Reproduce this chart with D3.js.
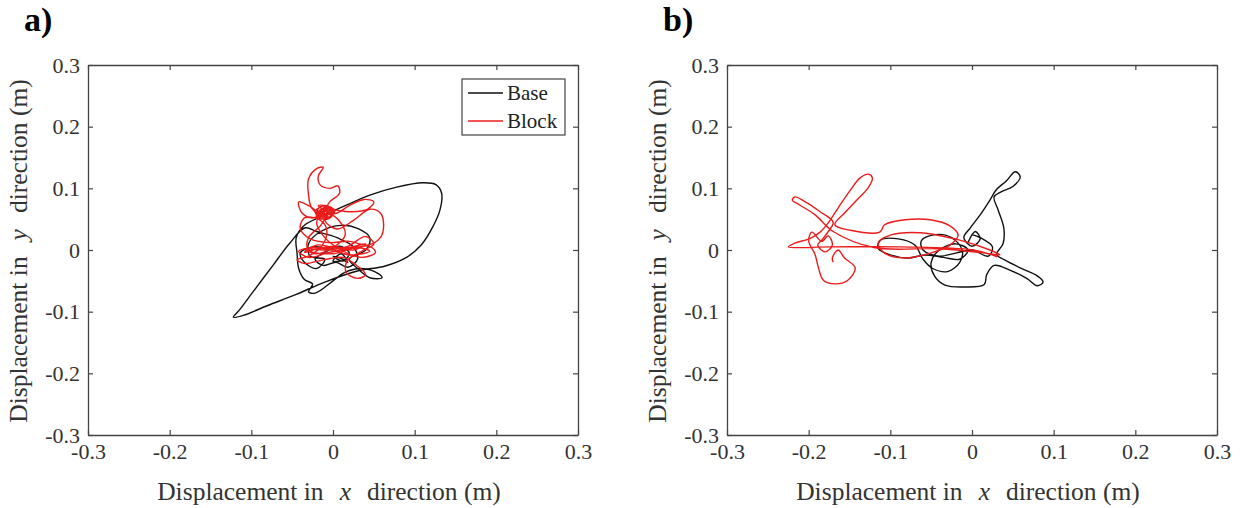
<!DOCTYPE html>
<html>
<head>
<meta charset="utf-8">
<script src="https://cdn.jsdelivr.net/npm/d3@7"></script>
<style>
body { margin: 0; background: #fff; }
text { font-family: 'Liberation Serif', 'Times New Roman', serif; }
</style>
</head>
<body>
<div id="graph"></div>
<script>
'use strict';

let WIDTH = 1244;
let HEIGHT = 508;
let PLOT_W = 490;
let PLOT_H = 370;
let PANEL_POS = [{ left: 88, top: 65 }, { left: 727, top: 65 }];

let COLORS = { Base: '#111111', Block: '#ec1c1c' };

// axis ticks
let TICKS = [-0.3, -0.2, -0.1, 0, 0.1, 0.2, 0.3];
let TICK_LABELS = ['-0.3', '-0.2', '-0.1', '0', '0.1', '0.2', '0.3'];
let SERIES = ['Base', 'Block'];
let PANEL_LABELS = ['a)', 'b)'];

// panel a, base displacement (x, y) in m
let baseA = [
    [0.008, -0.012], [0.018, -0.02], [0.01, -0.006], [0.0, -0.018], [0.014, -0.016],
    [0.0, -0.01], [0.012, -0.018], [0.02, -0.005], [0.008, 0.006], [-0.01, -0.004],
    [-0.022, -0.015], [-0.012, -0.025], [0.004, -0.02], [0.018, -0.028], [0.03, -0.015],
    [0.025, 0.005], [0.005, 0.02], [-0.02, 0.03], [-0.034, 0.036], [-0.053, 0.011],
    [-0.073, -0.024], [-0.098, -0.068], [-0.115, -0.098], [-0.122, -0.109], [-0.11, -0.106],
    [-0.08, -0.09], [-0.045, -0.072], [-0.01, -0.052], [0.03, -0.034], [0.064, -0.026],
    [0.09, -0.012], [0.108, 0.008], [0.122, 0.037], [0.131, 0.065], [0.133, 0.092],
    [0.126, 0.106], [0.11, 0.109], [0.078, 0.102], [0.045, 0.089], [0.017, 0.073],
    [-0.013, 0.055], [-0.035, 0.04], [-0.045, 0.02], [-0.044, -0.005], [-0.042, -0.03],
    [-0.035, -0.048], [-0.025, -0.055], [-0.03, -0.068], [-0.022, -0.07], [0.0, -0.05],
    [0.015, -0.036], [0.035, -0.03], [0.055, -0.038], [0.06, -0.045], [0.045, -0.045],
    [0.03, -0.03], [0.02, -0.015], [0.04, 0.0], [0.045, 0.02], [0.03, 0.035],
    [0.01, 0.04], [-0.015, 0.03], [-0.03, 0.01], [-0.028, -0.01], [-0.01, -0.015],
    [-0.02, -0.03], [-0.035, -0.02], [-0.04, -0.005], [-0.025, 0.005], [0.0, 0.0]
];

// panel a, block displacement
let blockA = [
    [0.0, 0.0], [-0.025, 0.004], [-0.042, -0.002], [-0.03, -0.012], [-0.005, -0.004],
    [0.02, 0.002], [0.045, 0.006], [0.052, -0.004], [0.035, -0.012], [0.01, 0.0],
    [-0.01, 0.02], [-0.02, 0.045], [-0.01, 0.062], [0.002, 0.066], [-0.012, 0.055],
    [-0.026, 0.068], [-0.03, 0.09], [-0.03, 0.115], [-0.02, 0.132], [-0.012, 0.134],
    [-0.018, 0.12], [-0.016, 0.106], [-0.004, 0.1], [0.006, 0.104], [0.008, 0.092],
    [-0.004, 0.078], [-0.012, 0.062], [-0.025, 0.052], [-0.038, 0.06], [-0.042, 0.078],
    [-0.03, 0.072], [-0.012, 0.058], [0.005, 0.06], [0.02, 0.072], [0.038, 0.082],
    [0.05, 0.078], [0.042, 0.066], [0.02, 0.062], [-0.005, 0.064], [-0.01, 0.048],
    [0.005, 0.034], [0.025, 0.048], [0.045, 0.066], [0.058, 0.06], [0.062, 0.04],
    [0.058, 0.02], [0.042, 0.008], [0.02, 0.014], [-0.005, 0.012], [-0.028, 0.018],
    [-0.04, 0.035], [-0.035, 0.052], [-0.018, 0.05], [-0.008, 0.035], [-0.012, 0.01],
    [-0.03, -0.01], [-0.044, -0.016], [-0.035, -0.022], [-0.012, -0.016], [0.012, -0.012],
    [0.028, -0.024], [0.04, -0.04], [0.03, -0.046], [0.016, -0.036], [0.018, -0.016],
    [0.035, -0.002], [0.05, 0.01], [0.04, 0.022], [0.018, 0.006], [-0.008, 0.0],
    [-0.035, 0.002], [-0.022, -0.006], [0.0, 0.004], [0.015, 0.025], [0.006, 0.05],
    [-0.008, 0.062], [-0.018, 0.072], [-0.004, 0.07], [-0.014, 0.06], [-0.006, 0.054],
    [-0.015, 0.064], [-0.01, 0.055], [-0.004, 0.062], [-0.012, 0.068], [-0.018, 0.058],
    [-0.008, 0.052], [0.0, 0.058], [-0.006, 0.068], [-0.016, 0.064], [-0.012, 0.054],
    [-0.02, 0.058], [-0.008, 0.07], [0.0, 0.06], [-0.012, 0.05], [-0.022, 0.062],
    [-0.01, 0.072], [0.002, 0.064], [-0.006, 0.05], [-0.02, 0.054], [-0.016, 0.07],
    [-0.002, 0.068], [-0.004, 0.054], [-0.018, 0.06], [-0.01, 0.066], [-0.008, 0.058],
    [-0.015, 0.04], [-0.03, 0.02], [-0.03, 0.0], [0.0, -0.006], [0.03, 0.004],
    [0.045, -0.002], [0.02, -0.008], [-0.01, 0.004], [-0.035, -0.004], [-0.02, 0.008],
    [0.01, 0.002], [0.04, 0.01], [0.025, 0.0], [0.0, 0.006], [-0.02, 0.0]
];

// panel b, base displacement
let baseB = [
    [-0.005, 0.012], [0.004, 0.03], [0.01, 0.018], [0.0, 0.006], [-0.01, 0.02],
    [-0.002, 0.036], [0.01, 0.057], [0.022, 0.081], [0.03, 0.098], [0.042, 0.112],
    [0.053, 0.127], [0.059, 0.119], [0.05, 0.103], [0.035, 0.094], [0.027, 0.086],
    [0.032, 0.065], [0.039, 0.035], [0.038, 0.01], [0.03, -0.007], [0.04, -0.016],
    [0.059, -0.029], [0.08, -0.042], [0.087, -0.052], [0.08, -0.058], [0.067, -0.046],
    [0.047, -0.033], [0.027, -0.025], [0.018, -0.04], [0.015, -0.056], [-0.008, -0.06],
    [-0.033, -0.057], [-0.046, -0.042], [-0.05, -0.02], [-0.04, 0.0], [-0.02, 0.01],
    [-0.005, 0.0], [-0.015, -0.015], [-0.035, -0.012], [-0.058, -0.008], [-0.078, -0.013],
    [-0.1, -0.008], [-0.115, 0.003], [-0.112, 0.016], [-0.09, 0.018], [-0.07, 0.008],
    [-0.06, -0.015], [-0.048, -0.03], [-0.03, -0.035], [-0.015, -0.02], [-0.012, 0.0],
    [-0.025, 0.02], [-0.045, 0.025], [-0.062, 0.015], [-0.06, 0.0], [-0.04, -0.01],
    [-0.02, -0.005], [0.0, 0.0], [0.02, -0.01], [0.025, 0.005], [0.01, 0.02], [0.0, 0.025]
];

// panel b, block displacement
let blockB = [
    [0.031, -0.011], [0.001, 0.0], [-0.088, 0.005], [-0.174, 0.005], [-0.225, 0.005],
    [-0.217, 0.011], [-0.198, 0.019], [-0.186, 0.029], [-0.176, 0.044], [-0.164, 0.068],
    [-0.149, 0.097], [-0.137, 0.117], [-0.127, 0.123], [-0.122, 0.117], [-0.127, 0.101],
    [-0.141, 0.081], [-0.156, 0.06], [-0.168, 0.041], [-0.149, 0.032], [-0.113, 0.029],
    [-0.107, 0.041], [-0.082, 0.049], [-0.051, 0.049], [-0.027, 0.039], [-0.017, 0.024],
    [-0.027, 0.008], [-0.051, -0.005], [-0.082, -0.013], [-0.107, -0.005], [-0.115, 0.011],
    [-0.1, 0.024], [-0.064, 0.028], [-0.015, 0.016], [0.022, 0.0], [0.034, -0.008],
    [0.016, -0.005], [-0.04, 0.002], [-0.12, 0.004], [-0.17, 0.03], [-0.192, 0.057],
    [-0.211, 0.073], [-0.22, 0.081], [-0.217, 0.086], [-0.204, 0.078], [-0.186, 0.062],
    [-0.17, 0.045], [-0.176, 0.03], [-0.184, 0.016], [-0.189, 0.008], [-0.18, -0.003],
    [-0.171, 0.008], [-0.176, 0.023], [-0.184, 0.014], [-0.196, 0.029], [-0.2, 0.015],
    [-0.192, -0.008], [-0.188, -0.029], [-0.182, -0.049], [-0.168, -0.055], [-0.152, -0.049],
    [-0.143, -0.029], [-0.156, -0.013], [-0.164, 0.0], [-0.171, -0.013], [-0.17, -0.02]
];

let PANEL_DATA = [
    { Base: baseA, Block: blockA },
    { Base: baseB, Block: blockB }
];

function visualize () {
    let svg = d3.select('#graph')
        .append('svg')
        .attr('width', WIDTH)
        .attr('height', HEIGHT);

    PANEL_POS.forEach((pos, i) => {
        let scales = drawAxes(svg, pos);
        SERIES.forEach(s => plotLine(svg, PANEL_DATA[i][s], scales, COLORS[s]));
        makeLabels(svg, pos, PANEL_LABELS[i]);
        if (i === 0) drawLegend(svg, pos);
    });
}

function drawAxes (svg, pos) {
    let xScale = d3.scaleLinear()
        .domain([-0.3, 0.3])
        .range([pos.left, pos.left + PLOT_W]);

    let yScale = d3.scaleLinear()
        .domain([-0.3, 0.3])
        .range([pos.top + PLOT_H, pos.top]);

    let fmt = (d, i) => TICK_LABELS[i];

    let axes = [
        { axis: d3.axisBottom(xScale).tickFormat(fmt), t: 'translate(0,' + (pos.top + PLOT_H) + ')' },
        { axis: d3.axisLeft(yScale).tickFormat(fmt), t: 'translate(' + pos.left + ',0)' },
        { axis: d3.axisTop(xScale).tickFormat(''), t: 'translate(0,' + pos.top + ')' },
        { axis: d3.axisRight(yScale).tickFormat(''), t: 'translate(' + (pos.left + PLOT_W) + ',0)' }
    ];

    axes.forEach(a => {
        let g = svg.append('g')
            .attr('transform', a.t)
            .call(a.axis.tickValues(TICKS).tickSizeInner(-5).tickSizeOuter(0).tickPadding(8));
        g.select('.domain').attr('stroke', '#444').attr('stroke-width', 1.3);
        g.selectAll('.tick line').attr('stroke', '#444').attr('stroke-width', 1.2);
        g.selectAll('.tick text')
            .attr('fill', '#333')
            .style('font-family', "'Liberation Serif', serif")
            .style('font-size', '22px');
    });

    return { x: xScale, y: yScale };
}

function plotLine (svg, data, s, color) {
    let line = d3.line()
        .x(d => s.x(d[0]))
        .y(d => s.y(d[1]))
        .curve(d3.curveCatmullRom.alpha(0.5));

    svg.append('path')
        .datum(data)
        .attr('d', line)
        .attr('fill', 'none')
        .attr('stroke', color)
        .attr('stroke-width', 1.4)
        .attr('stroke-linejoin', 'round');
}

function makeLabels (svg, pos, panel) {
    let cx = pos.left + PLOT_W / 2;
    let cy = pos.top + PLOT_H / 2;

    let xt = svg.append('text')
        .attr('x', cx - 4)
        .attr('y', 500)
        .attr('text-anchor', 'middle')
        .attr('fill', '#333')
        .style('font-size', '25.5px');
    xt.append('tspan').text('Displacement in');
    xt.append('tspan').attr('dx', 16).style('font-style', 'italic').text('x');
    xt.append('tspan').attr('dx', 16).text('direction (m)');

    let yt = svg.append('text')
        .attr('transform', 'translate(' + (pos.left - 61) + ',' + (cy + 1) + ') rotate(-90)')
        .attr('text-anchor', 'middle')
        .attr('fill', '#333')
        .style('font-size', '25.5px');
    yt.append('tspan').text('Displacement in');
    yt.append('tspan').attr('dx', 16).style('font-style', 'italic').text('y');
    yt.append('tspan').attr('dx', 16).text('direction (m)');

    svg.append('text')
        .attr('x', pos.left - 64)
        .attr('y', 31)
        .style('font-size', '34px')
        .style('font-weight', 'bold')
        .text(panel);
}

function drawLegend (svg, pos) {
    let lx = pos.left + 374;
    let ly = pos.top + 14;

    svg.append('rect')
        .attr('x', lx)
        .attr('y', ly)
        .attr('width', 103)
        .attr('height', 56)
        .attr('fill', '#fff')
        .attr('stroke', '#444')
        .attr('stroke-width', 1.2);

    let items = svg.selectAll('.legend-item')
        .data(SERIES)
        .enter()
        .append('g')
        .attr('class', 'legend-item')
        .attr('transform', (d, i) => 'translate(' + lx + ',' + (ly + 14 + i * 28) + ')');

    items.append('line')
        .attr('x1', 6)
        .attr('x2', 41)
        .attr('stroke', d => COLORS[d])
        .attr('stroke-width', 1.4);

    items.append('text')
        .attr('x', 45)
        .attr('y', 7)
        .attr('fill', '#222')
        .style('font-size', '21px')
        .text(d => d);
}

visualize();
</script>
</body>
</html>
